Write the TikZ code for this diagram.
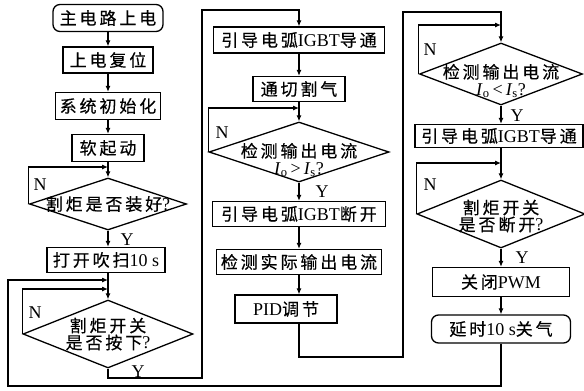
\documentclass[tikz,border=0pt]{standalone}
\usepackage{fontspec}
\setmainfont{Liberation Serif}
\newfontfamily\cjkfont{Noto Sans CJK SC}[LetterSpace=17,FakeBold=0.4]
\newcommand\cn[1]{{\cjkfont\fontsize{17}{17}\selectfont #1}}
\usetikzlibrary{shapes.geometric,arrows.meta}
\begin{document}
\begin{tikzpicture}[x=1pt,y=-1pt,
  every node/.style={font=\fontsize{18}{17}\selectfont},
  box/.style={draw,line width=1.3pt,inner sep=0pt,minimum height=26pt},
  rbox/.style={box,rounded corners=7pt},
  dia/.style={draw,diamond,line width=1.3pt,inner sep=0pt},
  arr/.style={line width=1.1pt,-{Latex[length=6pt,width=5pt]}},
  lab/.style={inner sep=0pt}]
\useasboundingbox (0,0) rectangle (584,391);
% column 1
\node[rbox,minimum width=110pt,minimum height=27pt] (s1) at (108,18) {\cn{主电路上电}};
\node[box,minimum width=90pt] (s2) at (108,60) {\cn{上电复位}};
\node[box,minimum width=105pt,minimum height=27pt] (s3) at (108,106) {\cn{系统初始化}};
\node[box,minimum width=72pt,minimum height=27pt] (s4) at (108,148) {\cn{软起动}};
\node[dia,minimum width=157pt,minimum height=52pt] (d1) at (108,204) {};
\node[lab] (d1t) at (108,204) {\cn{割炬是否装好}?};
\node[box,minimum width=118pt,minimum height=25pt] (s5) at (106,260) {\cn{打开吹扫}10 s};
\node[dia,minimum width=170pt,minimum height=68pt] (d2) at (108,334) {};
\node[lab,align=center] (d2t) at (108,334) {\cn{割炬开关}\\\cn{是否按下}?};
% column 2
\node[box,minimum width=171pt] (t1) at (299,40) {\cn{引导电弧}IGBT\cn{导通}};
\node[box,minimum width=92pt,minimum height=25pt] (t2) at (299,89) {\cn{通切割气}};
\node[dia,minimum width=180pt,minimum height=60pt] (d3) at (299,152) {};
\node[lab,align=center] (d3t) at (299,160) {\cn{检测输出电流}\\\textit{I}\textsubscript{o}\,>\,\textit{I}\textsubscript{s}?};
\node[box,minimum width=173pt,minimum height=25pt] (t3) at (299,214) {\cn{引导电弧}IGBT\cn{断开}};
\node[box,minimum width=165pt,minimum height=25pt] (t4) at (299,262) {\cn{检测实际输出电流}};
\node[box,minimum width=102pt,minimum height=28pt] (t5) at (286,309) {PID\cn{调节}};
% column 3
\node[dia,minimum width=163pt,minimum height=62pt] (d4) at (501,74) {};
\node[lab,align=center] (d4t) at (501,81) {\cn{检测输出电流}\\\textit{I}\textsubscript{o}\,<\,\textit{I}\textsubscript{s}?};
\node[box,minimum width=168pt,minimum height=23pt] (u1) at (499,136) {\cn{引导电弧}IGBT\cn{导通}};
\node[dia,minimum width=168pt,minimum height=68pt] (d5) at (501,214) {};
\node[lab,align=center] (d5t) at (501,216) {\cn{割炬开关}\\\cn{是否断开}?};
\node[box,minimum width=137pt,minimum height=29pt] (u2) at (501,282) {\cn{关闭}PWM};
\node[rbox,minimum width=139pt,minimum height=28pt] (u3) at (501,329) {\cn{延时}10 s\cn{关气}};
% junctions
\coordinate (j1) at (108,167);
\coordinate (j2) at (108,289);
\coordinate (j3) at (108,280);
\coordinate (b1) at (8,386);
\coordinate (k1) at (202,378);
\coordinate (k2) at (299,10);
\coordinate (j4) at (299,108);
\coordinate (m1) at (403,357);
\coordinate (m2) at (501,12);
\coordinate (j5) at (501,25);
\coordinate (j6) at (501,163);
% connectors column 1
\draw[arr] (s1) -- (s2);
\draw[arr] (s2) -- (s3);
\draw[arr] (s3) -- (s4);
\draw[arr] (s4) -- (d1);
\draw[arr] (d1.west) |- (j1);
\draw[arr] (d1.south) -- (d1.south |- s5.north);
\draw[arr] (d1.south |- s5.south) -- (d2.north);
\draw[arr] (d2.west) |- (j2);
\draw[arr] (u3.south) |- (b1) |- (j3);
\draw[arr] (d2.south) |- (k1) |- (k2) -- (t1.north);
% column 2
\draw[arr] (t1) -- (t2);
\draw[arr] (t2) -- (d3);
\draw[arr] (d3.west) |- (j4);
\draw[arr] (d3) -- (t3);
\draw[arr] (t3) -- (t4);
\draw[arr] (t4.south) -- (t4.south |- t5.north);
\draw[arr] (t4.south |- t5.south) |- (m1) |- (m2) -- (d4.north);
% column 3
\draw[arr] (d4.west) |- (j5);
\draw[arr] (d4.south) -- (d4.south |- u1.north);
\draw[arr] (d4.south |- u1.south) -- (d5.north);
\draw[arr] (d5.west) |- (j6);
\draw[arr] (d5) -- (u2);
\draw[arr] (u2) -- (u3);
% labels
\node[lab] (n1) at (40,185) {N};
\node[lab] (y1) at (127,240) {Y};
\node[lab] (n2) at (35,313) {N};
\node[lab] (y2) at (138,372) {Y};
\node[lab] (n3) at (222,133) {N};
\node[lab] (y3) at (322,192) {Y};
\node[lab] (n4) at (430,50) {N};
\node[lab] (y4) at (517,116) {Y};
\node[lab] (n5) at (430,185) {N};
\node[lab] (y5) at (522,258) {Y};
\end{tikzpicture}
\end{document}
